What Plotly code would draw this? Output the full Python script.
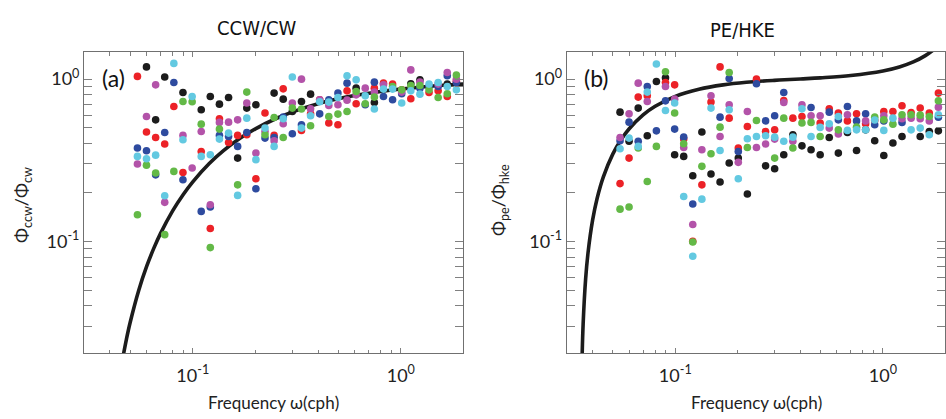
import plotly.graph_objects as go
import math

# ---------------- data ----------------
freq = [0.0542, 0.0599, 0.0663, 0.0733, 0.0811, 0.0897, 0.0993, 0.1098, 0.1214, 0.1343,
        0.1486, 0.1643, 0.1818, 0.2011, 0.2224, 0.2460, 0.2721, 0.3010, 0.3330, 0.3683,
        0.4074, 0.4506, 0.4985, 0.5514, 0.6099, 0.6745, 0.7462, 0.8253, 0.9129, 1.0097,
        1.1169, 1.2354, 1.3665, 1.5115, 1.6719, 1.8493]

N = None
# Panel (a): CCW/CW ratio
a_black = [N, 1.19, 0.561, 1.03, N, 0.828, N, 0.647, 0.782, 0.701,
           0.771, 0.326, 0.663, 0.695, N, 0.820, 0.753, 0.632, 0.728, 0.808,
           N, N, N, N, 0.88, N, 0.718, N, N, N,
           0.936, 0.99, N, N, 0.932, N]
a_red = [1.04, 0.472, 0.437, 0.398, 0.678, 0.266, N, 0.358, 0.120, 0.570,
         0.407, 0.450, 0.454, 0.243, 0.618, 0.450, 0.871, N, 0.483, 0.611,
         0.746, 0.536, 0.523, 0.847, 0.705, N, 0.88, 0.945, 0.932, 0.86,
         0.757, N, 0.828, 0.847, 0.782, 0.97]
a_blue = [0.376, 0.362, 0.257, 0.469, 0.953, 0.240, N, 0.153, 0.163, 0.450,
          0.443, 0.385, 0.469, 0.211, 0.433, 0.437, 0.583, 0.461, 0.523, N,
          0.611, 0.746, 0.820, 0.945, N, 0.695, 0.958, 0.782, 0.746, 0.812,
          N, 0.88, 0.90, 0.90, 1.05, 0.953]
a_magenta = [0.300, 0.589, 0.922, 0.174, N, 0.450, 0.283, 0.476, 0.168, 0.541,
             0.543, 0.561, 0.712, 0.350, 0.476, 0.417, 0.531, 0.712, 1.0, 0.656,
             0.746, 0.688, 0.695, 0.742, 0.80, 0.88, 0.832, 0.922, N, 0.832,
             1.14, 0.958, N, 0.932, 1.10, 1.0]
a_green = [0.146, 0.295, 0.264, 0.110, 0.270, 0.728, 0.725, 0.528, 0.0915, 0.492,
           N, 0.223, 0.832, N, 0.454, 0.580, 0.437, 0.663, 0.654, 0.516,
           N, 0.589, 0.609, 0.632, 0.839, 0.705, 0.775, N, 0.90, 0.859,
           0.913, 0.913, 0.859, 0.771, 0.812, 1.06]
a_cyan = [0.334, 0.323, 0.340, 0.191, 1.25, 0.423, 0.782, 0.334, 0.342, 0.427,
          0.465, 0.192, 0.575, 0.319, 0.499, 0.385, 0.570, 1.03, 0.499, 0.595,
          0.725, 0.722, 0.771, 1.05, 0.99, 0.789, 0.654, 0.868, 0.868, 0.712,
          0.847, 0.808, 0.932, 0.953, 0.90, 0.859]

# Panel (b): PE/HKE ratio
b_black = [0.626, 0.414, 0.663, 0.448, 0.967, 1.02, 0.342, 0.334, 0.254, 0.472,
           0.260, 0.232, 0.304, 0.326, 0.196, N, 0.292, 0.280, 0.342, 0.454,
           0.388, 0.367, 0.342, 0.437, 0.350, 0.469, 0.363, 0.487, 0.417, 0.338,
           0.404, 0.443, N, 0.443, 0.476, 0.480]
b_red = [0.227, 0.326, 0.775, 0.789, N, 0.953, 0.922, 0.427, 0.100, 0.223,
         0.722, 1.19, 0.575, 0.376, 0.511, 1.0, 0.476, 0.487, 0.738, 0.575,
         0.589, N, 0.536, 0.656, 0.618, 0.553, 0.611, 0.531, 0.555, 0.632,
         0.632, 0.685, 0.623, 0.663, 0.618, 0.820]
b_blue = [0.417, 0.543, 0.414, 0.90, 0.480, 0.735, 0.492, 0.439, 0.170, N,
          N, 0.583, 1.01, 0.358, N, 0.936, 0.553, 0.595, 0.828, N,
          N, 0.668, N, 0.626, 0.561, 0.678, 0.553, 0.611, 0.523, 0.553,
          N, 0.541, N, N, N, 0.583]
b_magenta = [0.437, 0.611, 0.945, 0.728, N, 0.90, 0.753, 0.379, 0.127, 0.367,
             0.789, 0.443, 0.695, 0.307, 0.632, 0.379, 0.398, 0.427, 0.718, 0.414,
             0.695, 0.595, 0.595, 0.499, 0.459, 0.603, N, 0.553, N, 0.595,
             N, 0.570, 0.575, 0.570, 0.553, 0.672]
b_green = [0.158, 0.163, 0.376, 0.234, 0.385, 1.11, 0.618, 0.400, 0.099, 0.290,
           0.347, 0.506, 1.10, N, 0.379, 0.556, N, 0.326, 0.575, 0.376,
           0.536, 0.541, 0.443, N, 0.487, N, 0.506, N, 0.583, 0.561,
           0.528, 0.603, 0.603, 0.600, 0.589, 0.735]
b_cyan = [0.372, 0.433, 0.385, 0.832, 1.24, 0.641, 0.712, 0.189, 0.081, 0.182,
          0.663, 0.363, 0.647, 0.243, 0.429, 0.443, 0.448, 0.439, 0.414, 0.439,
          0.656, 0.443, 0.504, 0.531, 0.589, 0.483, 0.487, 0.487, 0.560, 0.483,
          0.575, N, 0.487, 0.499, 0.454, 0.603]

# Model curves (sampled off the figure)
a_curve_x = [0.0464, 0.048, 0.05, 0.055, 0.06, 0.065, 0.07, 0.08, 0.09, 0.1, 0.12, 0.14,
             0.17, 0.2, 0.25, 0.3, 0.4, 0.5, 0.6, 0.8, 1.0, 1.3, 1.6, 2.0]
a_curve_y = [0.0200, 0.0250, 0.0316, 0.0500, 0.0700, 0.0908, 0.1120, 0.1541, 0.1946, 0.2329,
             0.3018, 0.3611, 0.4347, 0.4940, 0.5700, 0.6266, 0.7048, 0.7561, 0.7922, 0.8398,
             0.8697, 0.8982, 0.9164, 0.9325]
b_curve_x = [0.0356, 0.036, 0.037, 0.038, 0.04, 0.042, 0.045, 0.05, 0.055, 0.06, 0.07, 0.08,
             0.1, 0.13, 0.17, 0.22, 0.3, 0.4, 0.5, 0.7, 1.0, 1.2, 1.4, 1.6, 1.8, 2.0]
b_curve_y = [0.0197, 0.0310, 0.0584, 0.0849, 0.1356, 0.1831, 0.2488, 0.3448, 0.4259, 0.4944,
             0.6018, 0.6802, 0.7837, 0.8672, 0.9221, 0.9560, 0.9831, 1.0027, 1.0186, 1.0523,
             1.1223, 1.1885, 1.2768, 1.3962, 1.5613, 1.7989]

colors = {"black": "#1c1c1c", "red": "#ec2227", "blue": "#2e4b9f",
          "magenta": "#b353a9", "green": "#63b947", "cyan": "#63c9e1"}

W, H = 946, 419
FONT = "Lato"
TITLE_FONT = "DejaVu Sans Condensed, Liberation Sans Narrow, Roboto, sans-serif"

fig = go.Figure()

def px_x(p):
    return p / W

def px_y(p):
    return 1 - p / H

panels = [
    ("x", "y", a_curve_x, a_curve_y,
     [("black", a_black), ("red", a_red), ("blue", a_blue),
      ("magenta", a_magenta), ("green", a_green), ("cyan", a_cyan)]),
    ("x2", "y2", b_curve_x, b_curve_y,
     [("black", b_black), ("red", b_red), ("blue", b_blue),
      ("magenta", b_magenta), ("green", b_green), ("cyan", b_cyan)]),
]

for xa, ya, cx, cy, series in panels:
    fig.add_trace(go.Scatter(x=cx, y=cy, mode="lines", xaxis=xa, yaxis=ya,
                             line=dict(color="#1c1c1c", width=3.6, shape="spline"),
                             showlegend=False, hoverinfo="skip"))
    for name, vals in series:
        fig.add_trace(go.Scatter(x=freq, y=vals, mode="markers", xaxis=xa, yaxis=ya,
                                 marker=dict(color=colors[name], size=7.6, line=dict(width=0)),
                                 showlegend=False, name=name))

x_major = [0.1, 1]
x_major_text = ["10<sup>-1</sup>", "10<sup>0</sup>"]
x_minor = [0.03, 0.04, 0.05, 0.06, 0.07, 0.08, 0.09, 0.2, 0.3, 0.4, 0.5, 0.6, 0.7, 0.8, 0.9, 2]
y_major = [0.1, 1]
y_major_text = ["10<sup>-1</sup>", "10<sup>0</sup>"]
y_minor = [0.02, 0.03, 0.04, 0.05, 0.06, 0.07, 0.08, 0.09, 0.2, 0.3, 0.4, 0.5, 0.6, 0.7, 0.8, 0.9]

xr = [math.log10(0.03), math.log10(1.99)]
yr = [math.log10(0.0205), math.log10(1.47)]

axis_common = dict(type="log", showgrid=False, zeroline=False, showline=True,
                   linecolor="#707070", linewidth=1, mirror="ticks",
                   ticks="inside", tickcolor="#808080", tickwidth=1,
                   tickfont=dict(family=FONT, size=18, color="#222"))

xdomA = [84 / W, 463 / W]
xdomB = [566.7 / W, 945 / W]
ydom = [1 - 353 / H, 1 - 52 / H]

fig.update_layout(
    width=W, height=H, margin=dict(l=0, r=0, t=0, b=0),
    paper_bgcolor="white", plot_bgcolor="white",
    xaxis=dict(axis_common, domain=xdomA, range=xr, anchor="y",
               tickvals=x_major, ticktext=x_major_text, ticklen=5, ticklabelstandoff=6,
               minor=dict(tickvals=x_minor, ticks="inside", ticklen=3.5, tickcolor="#808080")),
    yaxis=dict(axis_common, domain=ydom, range=yr, anchor="x",
               tickvals=y_major, ticktext=y_major_text, ticklen=8,
               minor=dict(tickvals=y_minor, ticks="inside", ticklen=8, tickcolor="#808080")),
    xaxis2=dict(axis_common, domain=xdomB, range=xr, anchor="y2",
                tickvals=x_major, ticktext=x_major_text, ticklen=5, ticklabelstandoff=6,
                minor=dict(tickvals=x_minor, ticks="inside", ticklen=3.5, tickcolor="#808080")),
    yaxis2=dict(axis_common, domain=ydom, range=yr, anchor="x2",
                tickvals=y_major, ticktext=y_major_text, ticklen=8,
                minor=dict(tickvals=y_minor, ticks="inside", ticklen=8, tickcolor="#808080")),
)

ann = []
# titles
ann.append(dict(text="CCW/CW", x=px_x(257), y=px_y(28), font=dict(family=TITLE_FONT, size=20, color="#111")))
ann.append(dict(text="PE/HKE", x=px_x(742), y=px_y(30), font=dict(family=TITLE_FONT, size=20, color="#111")))
# panel letters
ann.append(dict(text="(a)", x=px_x(113), y=px_y(78), font=dict(family=FONT, size=23, color="#111")))
ann.append(dict(text="(b)", x=px_x(596), y=px_y(78), font=dict(family=FONT, size=23, color="#111")))
# x labels
ann.append(dict(text="Frequency ω(cph)", x=px_x(273.5), y=px_y(402), font=dict(family=FONT, size=17, color="#222")))
ann.append(dict(text="Frequency ω(cph)", x=px_x(756), y=px_y(402), font=dict(family=FONT, size=17, color="#222")))
# y labels
ann.append(dict(text="Φ<sub>ccw</sub>/Φ<sub>cw</sub>", x=px_x(22), y=px_y(205), textangle=-90,
                font=dict(family=FONT, size=18, color="#222")))
ann.append(dict(text="Φ<sub>pe</sub>/Φ<sub>hke</sub>", x=px_x(500), y=px_y(200), textangle=-90,
                font=dict(family=FONT, size=18, color="#222")))
for a in ann:
    a.update(xref="paper", yref="paper", showarrow=False, xanchor="center", yanchor="middle")
fig.update_layout(annotations=ann)

fig.write_html("out.html")
